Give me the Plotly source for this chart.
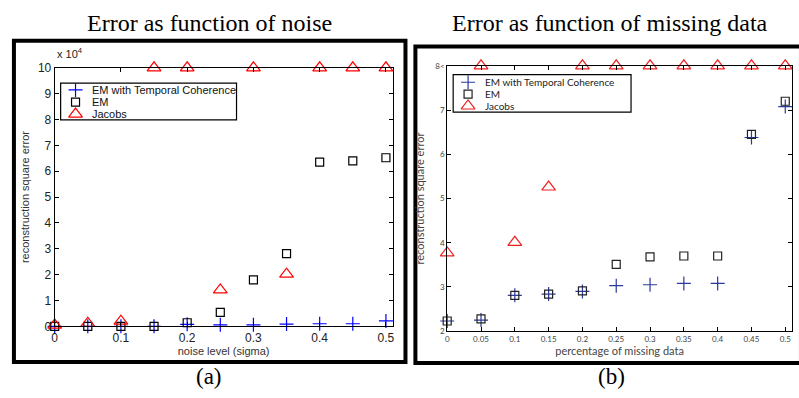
import plotly.graph_objects as go

W, H = 799, 398

# ---- data: left panel (error, units x 10^4) ----
noise = [0, 0.05, 0.1, 0.15, 0.2, 0.25, 0.3, 0.35, 0.4, 0.45, 0.5]
noise_emtc = [0, 0, 0, 0, 0.08, 0.06, 0.06, 0.09, 0.1, 0.1, 0.21]
noise_em = [0, 0, 0, 0, 0.14, 0.54, 1.8, 2.81, 6.35, 6.4, 6.52]
noise_jacobs = [0.05, 0.12, 0.2, 10, 10, 1.41, 10, 2.02, 10, 10, 10]

# ---- data: right panel ----
missing = [0, 0.05, 0.1, 0.15, 0.2, 0.25, 0.3, 0.35, 0.4, 0.45, 0.5]
missing_emtc = [2.23, 2.25, 2.81, 2.84, 2.9, 3.03, 3.05, 3.08, 3.08, 6.38, 7.08]
missing_em = [2.23, 2.28, 2.81, 2.84, 2.91, 3.51, 3.68, 3.7, 3.7, 6.45, 7.2]
missing_jacobs = [3.77, 8, 4.01, 5.26, 8, 8, 8, 8, 8, 8, 8]

left_xticks = [0, 0.1, 0.2, 0.3, 0.4, 0.5]
left_xticklabels = ["0", "0.1", "0.2", "0.3", "0.4", "0.5"]
left_yticks = list(range(0, 11))
right_xticks = [0, 0.05, 0.1, 0.15, 0.2, 0.25, 0.3, 0.35, 0.4, 0.45, 0.5]
right_xticklabels = ["0", "0.05", "0.1", "0.15", "0.2", "0.25", "0.3", "0.35", "0.4", "0.45", "0.5"]
right_yticks = [2, 3, 4, 5, 6, 7, 8]
right_yticklabels = ["2", "3", "4", "5", "6", "7", "8&lt;"]

names = ["EM with Temporal Coherence", "EM", "Jacobs"]

# styles
L_COLORS = ["#0000ff", "black", "#ff0000"]
R_COLORS = ["#2b3a9c", "#222222", "#ee2222"]
SYMBOLS = ["cross-thin-open", "square-open", "triangle-up-open"]
L_SIZES = [10, 8, 12]
R_SIZES = [10, 8, 12]
R_FONT = "Lato"


def px(x):
    return x / W


def py(y):
    return 1 - y / H


def mk(sym, size, color):
    return dict(symbol=sym, size=size, color=color, line=dict(width=1.2, color=color))


fig = go.Figure()

left_series = [noise_emtc, noise_em, noise_jacobs]
for i, ys in enumerate(left_series):
    fig.add_trace(go.Scatter(x=noise, y=ys, mode="markers", name=names[i],
                             marker=mk(SYMBOLS[i], L_SIZES[i], L_COLORS[i]),
                             xaxis="x", yaxis="y", cliponaxis=False, showlegend=False))

right_series = [missing_emtc, missing_em, missing_jacobs]
for i, ys in enumerate(right_series):
    fig.add_trace(go.Scatter(x=missing, y=ys, mode="markers", name=names[i],
                             marker=mk(SYMBOLS[i], R_SIZES[i], R_COLORS[i]),
                             xaxis="x2", yaxis="y2", cliponaxis=False, showlegend=False))

# ---- manual legends (compact, like MATLAB) on a pixel overlay axis ----
legends = [
    dict(box=(58, 79, 235, 117), sym_x=73, text_x=88, rows=[86, 98.5, 111],
         colors=L_COLORS, sizes=L_SIZES, font=dict(family="Liberation Sans", size=11, color="#111")),
    dict(box=(453, 70, 632, 109), sym_x=468, text_x=483, rows=[78, 90.3, 102.6],
         colors=R_COLORS, sizes=R_SIZES, font=dict(family=R_FONT, size=10, color="#222")),
]
for lg in legends:
    x0, y0, x1, y1 = lg["box"]
    fig.add_shape(type="rect", xref="paper", yref="paper",
                  x0=px(x0), x1=px(x1), y0=py(y1), y1=py(y0),
                  line=dict(color="black", width=1.2), fillcolor="white", layer="below")
    for i in range(3):
        fig.add_trace(go.Scatter(x=[lg["sym_x"]], y=[lg["rows"][i]], mode="markers",
                                 marker=mk(SYMBOLS[i], lg["sizes"][i], lg["colors"][i]),
                                 xaxis="x3", yaxis="y3", showlegend=False, hoverinfo="skip",
                                 cliponaxis=False))
        fig.add_annotation(text=names[i], x=px(lg["text_x"]), y=py(lg["rows"][i]),
                           xref="paper", yref="paper", showarrow=False,
                           xanchor="left", yanchor="middle", font=lg["font"])

axis_common = dict(showline=True, linecolor="black", linewidth=1, mirror="ticks",
                   ticks="inside", ticklen=4, tickcolor="black", showgrid=False,
                   zeroline=False)

fig.update_layout(
    width=W, height=H,
    margin=dict(l=0, r=0, t=0, b=0),
    paper_bgcolor="white", plot_bgcolor="rgba(0,0,0,0)",
    showlegend=False,
    xaxis=dict(domain=[px(52), px(392)], range=[0, 0.51], tickvals=left_xticks,
               ticktext=left_xticklabels,
               tickfont=dict(family="Liberation Sans", size=12, color="#222"),
               title=dict(text="noise level (sigma)", standoff=3,
                          font=dict(family="Liberation Sans", size=11, color="#333")),
               anchor="y", **axis_common),
    yaxis=dict(domain=[py(331), py(63)], range=[0, 10], tickvals=left_yticks,
               tickfont=dict(family="Liberation Sans", size=12, color="#222"),
               title=dict(text="reconstruction square error", standoff=6,
                          font=dict(family="Liberation Sans", size=11, color="#333")),
               anchor="x", **axis_common),
    xaxis2=dict(domain=[px(447), px(794)], range=[0, 0.51], tickvals=right_xticks,
                ticktext=right_xticklabels,
                tickfont=dict(family=R_FONT, size=8, color="#444"),
                title=dict(text="percentage of missing data", standoff=3,
                           font=dict(family=R_FONT, size=11, color="#444")),
                anchor="y2", **axis_common),
    yaxis2=dict(domain=[py(336), py(61)], range=[2, 8], tickvals=right_yticks,
                ticktext=right_yticklabels,
                tickfont=dict(family=R_FONT, size=8, color="#444"),
                title=dict(text="reconstruction square error", standoff=8,
                           font=dict(family=R_FONT, size=11, color="#444")),
                anchor="x2", **axis_common),
    xaxis3=dict(domain=[0, 1], range=[0, W], visible=False, anchor="y3", fixedrange=True),
    yaxis3=dict(domain=[0, 1], range=[H, 0], visible=False, anchor="x3", fixedrange=True),
)

# outer frames
fig.add_shape(type="rect", xref="paper", yref="paper",
              x0=px(11), x1=px(405), y0=py(368), y1=py(35),
              line=dict(color="black", width=4), layer="below")
fig.add_shape(type="rect", xref="paper", yref="paper",
              x0=px(415), x1=px(803), y0=py(369), y1=py(41),
              line=dict(color="black", width=4), layer="below")

# titles and captions
ann = [
    dict(text="Error as function of noise", x=px(208), y=py(17), size=24),
    dict(text="Error as function of missing data", x=px(611), y=py(17), size=24),
    dict(text="(a)", x=px(207), y=py(383), size=23),
    dict(text="(b)", x=px(612), y=py(383), size=23),
]
for a in ann:
    fig.add_annotation(text=a["text"], x=a["x"], y=a["y"], xref="paper", yref="paper",
                       showarrow=False, xanchor="center", yanchor="middle",
                       font=dict(family="Liberation Serif", size=a["size"], color="black"))

fig.add_annotation(text="x 10<sup>4</sup>", x=px(52), y=py(57), xref="paper", yref="paper",
                   showarrow=False, xanchor="left", yanchor="bottom",
                   font=dict(family="Liberation Sans", size=11, color="#222"))

fig.write_html("out.html")
